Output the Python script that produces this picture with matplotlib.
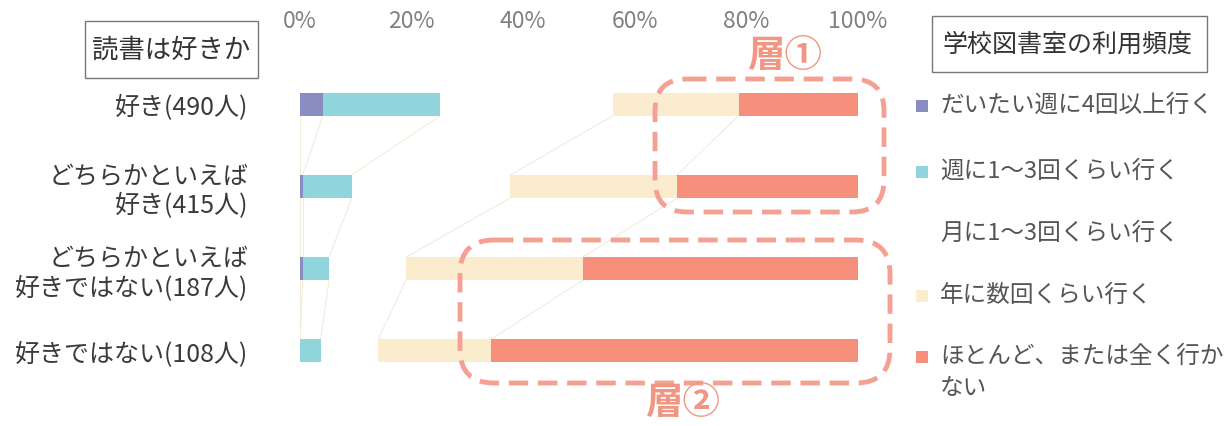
import matplotlib
matplotlib.use("Agg")
import matplotlib.pyplot as plt
from matplotlib.patches import FancyBboxPatch, Rectangle
import numpy as np

plt.rcParams['font.family'] = ['Noto Sans CJK JP', 'DejaVu Sans']

# data (percent of each group)
groups = ['好き(490人)', 'どちらかといえば\n好き(415人)',
          'どちらかといえば\n好きではない(187人)', '好きではない(108人)']
series = ['だいたい週に4回以上行く', '週に1～3回くらい行く', '月に1～3回くらい行く',
          '年に数回くらい行く', 'ほとんど、または全く行か\nない']
week4 = [4.1, 0.5, 0.5, 0.0]
week1_3 = [21.0, 8.8, 4.7, 3.7]
month1_3 = [31.0, 28.4, 13.8, 10.3]
year_few = [22.5, 29.9, 31.7, 20.2]
never = [21.4, 32.4, 49.3, 65.8]
ticks = [0, 20, 40, 60, 80, 100]

colors = ['#8a8dc2', '#8fd5db', '#ffffff', '#fbeccd', '#f6907c']
W, H = 1225, 427

fig = plt.figure(figsize=(W / 100, H / 100), dpi=100)
ax = fig.add_axes([300 / W, (H - 393) / H, 558 / W, 329 / H])

y = np.arange(len(groups))
left = np.zeros(len(groups))
bounds = [left.copy()]
bh = 0.28
for vals, c in zip([week4, week1_3, month1_3, year_few, never], colors):
    ax.barh(y, vals, left=left, height=bh, color=c, lw=0, zorder=2)
    left = left + np.array(vals)
    bounds.append(left.copy())

# faint series lines between bars
for b in bounds[:-1]:
    for i in range(len(groups) - 1):
        ax.plot([b[i], b[i + 1]], [i + bh / 2, i + 1 - bh / 2],
                color='#f2ecda', lw=0.8, zorder=1)

ax.set_xlim(0, 100)
ax.set_ylim(3.5, -0.5)
ax.xaxis.tick_top()
ax.set_xticks(ticks)
ax.set_xticklabels([f'{t}%' for t in ticks])
ax.tick_params(axis='x', length=0, pad=22, labelcolor='#808080', labelsize=16.5)
ax.set_yticks(y)
ax.set_yticklabels(groups, fontsize=18, color='#3a3a3a', linespacing=1.15)
ax.tick_params(axis='y', length=0, pad=37)
for s in ax.spines.values():
    s.set_visible(False)

# overlay in pixel coordinates for boxes, legend and annotations
ov = fig.add_axes([0, 0, 1, 1])
ov.set_xlim(0, W)
ov.set_ylim(H, 0)
ov.axis('off')
ov.patch.set_visible(False)

ov.add_patch(Rectangle((85, 22), 173, 57, fill=False, ec='#777777', lw=1))
ov.text(171, 50, '読書は好きか', ha='center', va='center', fontsize=19, color='#333333')
ov.add_patch(Rectangle((932, 17), 275, 56, fill=False, ec='#777777', lw=1))
ov.text(1067, 45, '学校図書室の利用頻度', ha='center', va='center', fontsize=18, color='#333333')

ly = [107, 173, 235, 297, 358]
for yy, lab, c in zip(ly, series, colors):
    ov.add_patch(Rectangle((916, yy - 6), 12, 12, fc=c, ec='none'))
    ov.text(940, yy - 13, lab, ha='left', va='top', fontsize=17, color='#555555',
            linespacing=1.5)

# dashed strata boxes
dash_c = '#f4a193'
ov.add_patch(FancyBboxPatch((655, 80), 229, 133, boxstyle='round,pad=0,rounding_size=32',
                            fill=False, ec=dash_c, lw=3.5, ls=(0, (4, 2))))
ov.add_patch(FancyBboxPatch((460, 241), 430, 143, boxstyle='round,pad=0,rounding_size=34',
                            fill=False, ec=dash_c, lw=3.5, ls=(0, (4, 2))))
ov.text(785, 55, '層①', ha='center', va='center', fontsize=27, fontweight='bold', color='#f29684')
ov.text(683, 403, '層②', ha='center', va='center', fontsize=27, fontweight='bold', color='#f29684')

fig.savefig('out.png', dpi=100, facecolor='white')
